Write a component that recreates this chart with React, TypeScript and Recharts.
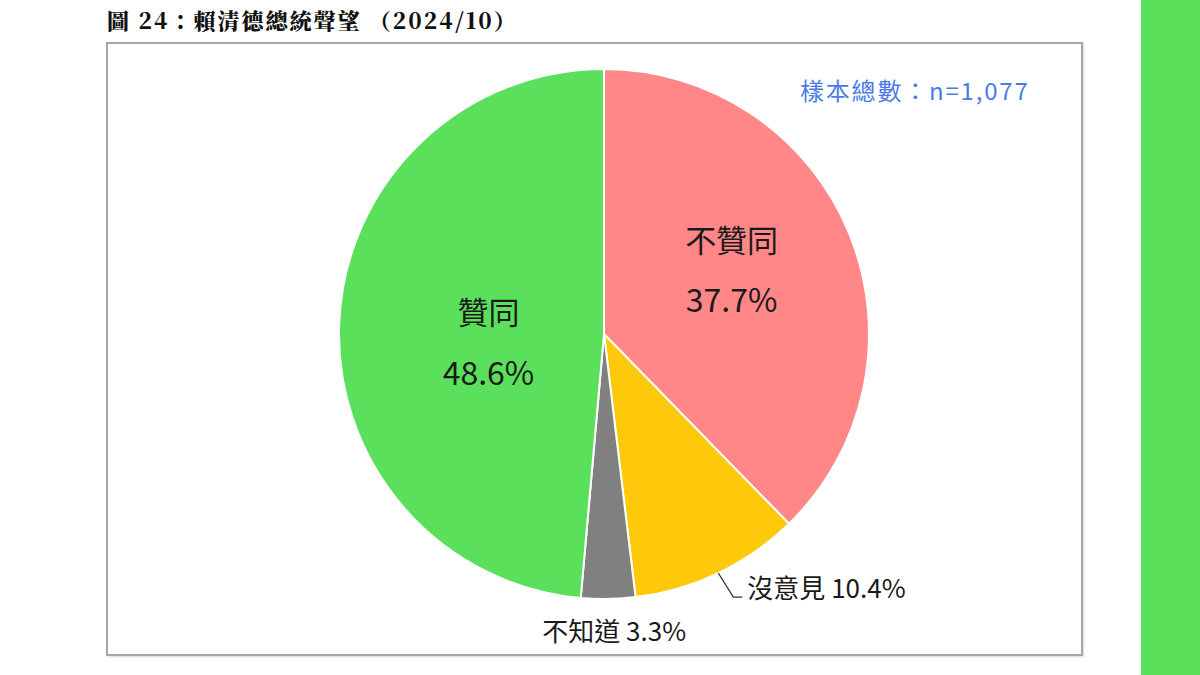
import React from "react";
import { PieChart, Pie, Cell } from "recharts";

// values, clockwise from 12 o'clock
const categories = ["不贊同", "沒意見", "不知道", "贊同"];
const shares = [37.7, 10.4, 3.3, 48.6];
const sampleSize = "1,077";
const titleText = "圖 24：賴清德總統聲望 （2024/10）";

const COLORS = ["#FF8787", "#FFC90B", "#808080", "#5BE05B"];
const FONT = '"Noto Sans CJK TC", "Noto Sans", sans-serif';
const RAD = Math.PI / 180;

const data = categories.map((name, i) => ({ name, value: shares[i] }));

const renderLabel = (props: any) => {
    const { cx, cy, midAngle, outerRadius, index, name, value } = props;
    const cos = Math.cos(-midAngle * RAD);
    const sin = Math.sin(-midAngle * RAD);

    // big two-line labels inside the large slices
    if (index === 0 || index === 3) {
        const r = outerRadius * (index === 0 ? 0.52 : 0.44);
        const x = cx + r * cos + (index === 3 ? 1 : 0);
        const y = cy + r * sin + (index === 0 ? -14 : 12);
        return (
            <g key={`lbl-${index}`} fontFamily={FONT} fill="#1a1a1a">
                <text x={x} y={y - 30} textAnchor="middle" dominantBaseline="central" fontSize={31}>
                    {name}
                </text>
                <text x={x} y={y + 30} textAnchor="middle" dominantBaseline="central" fontSize={32}>
                    {value}%
                </text>
            </g>
        );
    }

    // small slices: label outside
    const sx = cx + outerRadius * cos;
    const sy = cy + outerRadius * sin;
    if (index === 1) {
        const mx = sx + 15;
        const my = sy + 24;
        return (
            <g key={`lbl-${index}`}>
                <polyline points={`${sx},${sy} ${mx},${my} ${mx + 9},${my}`} fill="none" stroke="#333" strokeWidth={1.2} />
                <text x={mx + 14} y={my - 11} dominantBaseline="central" fontFamily={FONT} fontSize={26} fill="#1a1a1a">
                    {name} {value}%
                </text>
            </g>
        );
    }
    return (
        <text key={`lbl-${index}`} x={sx + 6} y={sy + 31} textAnchor="middle" dominantBaseline="central" fontFamily={FONT} fontSize={26} fill="#1a1a1a">
            {name} {value}%
        </text>
    );
};

export default function App() {
    return (
        <div style={{ position: "absolute", left: 0, top: 0, width: 1200, height: 675, background: "#fff", overflow: "hidden" }}>
            <div
                style={{
                    position: "absolute",
                    left: 107,
                    top: 5,
                    fontFamily: '"Noto Serif CJK TC", "DejaVu Serif", "Noto Sans CJK TC", serif',
                    fontWeight: 900,
                    fontSize: 22,
                    letterSpacing: 2,
                    lineHeight: "30px",
                    color: "#111",
                    whiteSpace: "pre",
                }}
            >
                {titleText}
            </div>
            <div
                style={{
                    position: "absolute",
                    left: 106,
                    top: 42,
                    width: 973,
                    height: 610,
                    border: "2px solid #a6a6a6",
                    boxShadow: "1px 1px 2px rgba(0,0,0,0.15)",
                }}
            />
            <div style={{ position: "absolute", left: 1141, top: 0, width: 59, height: 675, background: "#5BE05B" }} />
            <div style={{ position: "absolute", left: 0, top: 0 }}>
                <PieChart width={1200} height={675} margin={{ top: 0, right: 0, bottom: 0, left: 0 }}>
                    <Pie
                        data={data}
                        dataKey="value"
                        nameKey="name"
                        cx={604}
                        cy={334}
                        outerRadius={265}
                        startAngle={90}
                        endAngle={-270}
                        stroke="#ffffff"
                        strokeWidth={2}
                        label={renderLabel}
                        labelLine={false}
                        isAnimationActive={false}
                    >
                        {data.map((d, i) => (
                            <Cell key={d.name} fill={COLORS[i]} />
                        ))}
                    </Pie>
                </PieChart>
            </div>
            <div
                style={{
                    position: "absolute",
                    left: 800,
                    top: 75,
                    fontFamily: FONT,
                    fontSize: 24,
                    letterSpacing: 1.8,
                    lineHeight: "30px",
                    color: "#4B7BE8",
                    whiteSpace: "pre",
                }}
            >
                樣本總數：n={sampleSize}
            </div>
        </div>
    );
}
